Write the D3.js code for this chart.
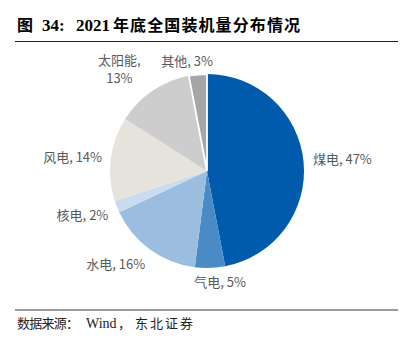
<!DOCTYPE html>
<html>
<head>
<meta charset="utf-8">
<script src="https://cdn.jsdelivr.net/npm/d3@7/dist/d3.min.js"></script>
<style>
  html, body { margin: 0; padding: 0; background: #fff; }
  svg { display: block; }
</style>
</head>
<body>
<svg id="chart" width="413" height="344"></svg>
<script>
// Installed capacity mix at end of 2021 (%), clockwise from 12 o'clock
const categories = ["煤电", "气电", "水电", "核电", "风电", "太阳能", "其他"];
const shares = [47, 5, 16, 2, 14, 13, 3];
const labelTexts = ["煤电, 47%", "气电, 5%", "水电, 16%", "核电, 2%", "风电, 14%", "太阳能,\n13%", "其他, 3%"];

// Slice fills
const sliceColors = ["#005BAC", "#4A8BC6", "#9BBDE0", "#C9DBEE", "#E6E3DD", "#CDCDCD", "#A6A6A6"];
// Fine-tuning of label placement (dx, dy) around the computed outside anchor
const labelNudge = {
  "煤电": [-0.5, -0.5], "气电": [9, -2], "水电": [-11, 2.5], "核电": [-1, 2.5],
  "风电": [1, 1], "太阳能": [-15.5, -1], "其他": [-7.5, 2.5]
};

const svg = d3.select("#chart");

// Title
const title = svg.append("text")
  .attr("y", 31)
  .attr("font-weight", "bold")
  .attr("fill", "#000")
  .attr("font-size", 16);
title.append("tspan").attr("x", 17).attr("font-family", "'Noto Sans CJK SC'").text("图");
title.append("tspan").attr("x", 42).attr("font-family", "'Liberation Serif'").attr("font-size", 17).text("34:");
title.append("tspan").attr("x", 76).attr("font-family", "'Liberation Serif'").attr("font-size", 17).text("2021");
title.append("tspan").attr("x", 113).attr("font-family", "'Noto Sans CJK SC'")
  .attr("textLength", 187).attr("lengthAdjust", "spacing").text("年底全国装机量分布情况");

svg.append("line").attr("x1", 15).attr("x2", 398).attr("y1", 41.5).attr("y2", 41.5)
  .attr("stroke", "#222").attr("stroke-width", 1.2);

// Footer
svg.append("line").attr("x1", 15).attr("x2", 398).attr("y1", 310).attr("y2", 310)
  .attr("stroke", "#9a9a9a").attr("stroke-width", 2);
const src = svg.append("text").attr("y", 328).attr("font-size", 13).attr("fill", "#222");
src.append("tspan").attr("x", 17).attr("font-family", "'Noto Sans CJK SC'")
  .attr("textLength", 62).attr("lengthAdjust", "spacing").text("数据来源：");
src.append("tspan").attr("x", 86).attr("font-family", "'Liberation Serif'").attr("font-size", 14).text("Wind");
src.append("tspan").attr("x", 118).attr("font-family", "'Noto Sans CJK SC'").text("，");
src.append("tspan").attr("x", 135).attr("font-family", "'Noto Sans CJK SC'")
  .attr("textLength", 58).attr("lengthAdjust", "spacing").text("东北证券");

// Pie
const cx = 207, cy = 171, r = 97;
const data = categories.map((c, i) => ({ name: c, value: shares[i], color: sliceColors[i], label: labelTexts[i] }));
const pie = d3.pie().value(d => d.value).sort(null);
const arcs = pie(data);
const arc = d3.arc().innerRadius(0).outerRadius(r);

const g = svg.append("g").attr("transform", `translate(${cx},${cy})`);
g.selectAll("path.slice")
  .data(arcs)
  .join("path")
  .attr("class", "slice")
  .attr("d", arc)
  .attr("fill", d => d.data.color)
  .attr("stroke", d => d.data.name === "其他" ? "#fff" : "none")
  .attr("stroke-width", d => d.data.name === "其他" ? 1.8 : 0)
  .attr("stroke-linejoin", "miter");

// Labels: outside the rim along each slice's mid-angle, box pushed outward
const labelR = r + 10;
const lineH = 18;
arcs.forEach(a => {
  const mid = (a.startAngle + a.endAngle) / 2;
  const sx = Math.sin(mid), sy = -Math.cos(mid);
  const px = labelR * sx, py = labelR * sy;
  const lines = a.data.label.split("\n");
  const t = g.append("text")
    .attr("text-anchor", "middle")
    .attr("font-family", "'Liberation Sans Narrow', 'Noto Sans CJK SC', sans-serif")
    .attr("font-size", 13)
    .attr("fill", "#595959");
  lines.forEach((ln, i) => {
    t.append("tspan").attr("x", 0).attr("y", (i - (lines.length - 1) / 2) * lineH).attr("dy", "0.35em").text(ln);
  });
  const bb = t.node().getBBox();
  const w = bb.width, h = lines.length * lineH - (lineH - 12);
  const nd = labelNudge[a.data.name] || [0, 0];
  const lx = px + (w / 2) * sx + nd[0];
  const ly = py + (h / 2) * sy + nd[1];
  t.attr("transform", `translate(${lx},${ly})`);
});
</script>
</body>
</html>
